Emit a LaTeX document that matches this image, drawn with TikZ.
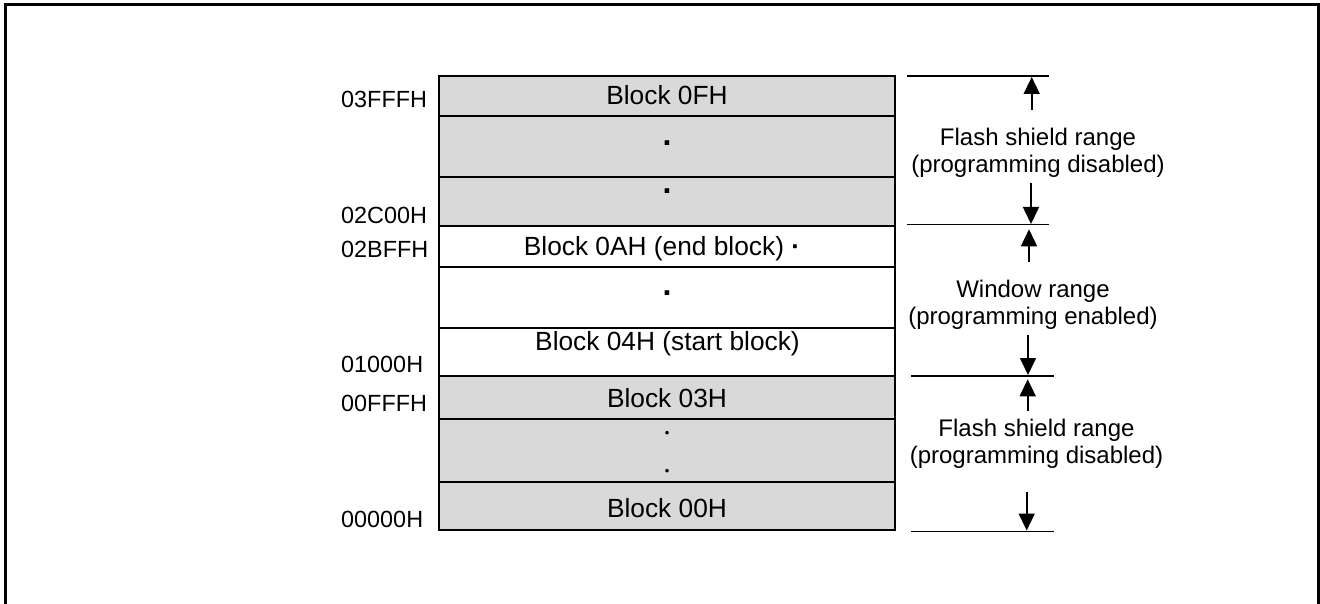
\documentclass[tikz,border=0pt]{standalone}
\usepackage{fontspec}
\setmainfont{Liberation Sans}
\newfontfamily\roundface{Liberation Serif}
\usetikzlibrary{arrows.meta}
\definecolor{shade}{HTML}{D9D9D9}

\begin{document}
\begin{tikzpicture}[x=1pt, y=-1pt,
    blk/.style={draw, line width=2pt, minimum width=456pt, inner sep=0pt},
    blktext/.style={font=\fontsize{26.3}{30}\selectfont, inner sep=0pt, anchor=base},
    addr/.style={font=\fontsize{23.4}{28}\selectfont, inner sep=0pt, anchor=base west},
    rngtext/.style={font=\fontsize{24}{27}\selectfont, align=center, inner sep=0pt, anchor=base},
    sqdot/.style={font=\fontsize{32}{32}\selectfont\bfseries, inner sep=0pt},
    rddot/.style={font=\fontsize{30}{30}\selectfont\roundface, inner sep=0pt},
    bound/.style={line width=1.8pt},
    rng/.style={line width=1.6pt, -{Triangle[length=17pt, width=16pt]}}]
  \useasboundingbox (0,0) rectangle (1320,604);
  \draw[line width=2.6pt] (5.3,604) |- (1318.7,4.3) -- (1318.7,604);
  % memory blocks, top to bottom
  \foreach \n/\t/\b/\c in {1/76/116/shade, 2/116/177/shade, 3/177/226/shade,
      4/226/267/white, 5/267/328/white, 6/328/376/white,
      7/376/419/shade, 8/419/482/shade, 9/482/530/shade}
    \node[blk, fill=\c, minimum height={(\b-\t)*1pt}] (r\n) at (667,{(\t+\b)/2}) {};
  \node[blktext] (b0f) at (667,105) {Block 0FH};
  \node[sqdot] (p1) at (667,143) {.};
  \node[sqdot] (p2) at (667,191) {.};
  \node[blktext] (b0a) at (662,255) {Block 0AH (end block) {\bfseries·}};
  \node[sqdot] (p3) at (667,292.7) {.};
  \node[blktext] (b04) at (667.5,350.7) {Block 04H (start block)};
  \node[blktext] (b03) at (667,407.3) {Block 03H};
  \node[rddot] (p4) at (667,433) {.};
  \node[rddot] (p5) at (667,471) {.};
  \node[blktext] (b00) at (667,517.3) {Block 00H};
  % addresses
  \node[addr] (a1) at (341,107.7) {03FFFH};
  \node[addr] (a2) at (341,223.3) {02C00H};
  \node[addr] (a3) at (341,257.7) {02BFFH};
  \node[addr] (a4) at (341,372.7) {01000H};
  \node[addr] (a5) at (341,411.7) {00FFFH};
  \node[addr] (a6) at (341,527.3) {00000H};
  % range boundaries
  \coordinate (e0w) at (907,76);    \coordinate (e0e) at (1049,76);
  \coordinate (e1w) at (907,224.5); \coordinate (e1e) at (1049,224.5);
  \coordinate (e2w) at (911,375.7); \coordinate (e2e) at (1054,375.7);
  \coordinate (e3w) at (911,531.5); \coordinate (e3e) at (1054,531.5);
  \draw[bound] (e0w) -- (e0e);
  \draw[bound] (e1w) -- (e1e);
  \draw[bound] (e2w) -- (e2e);
  \draw[bound] (e3w) -- (e3e);
  % ranges
  \node[rngtext] (fsu) at (1038,173) {Flash shield range\\(programming disabled)};
  \node[rngtext] (win) at (1033,324.3) {Window range\\(programming enabled)};
  \node[rngtext] (fsl) at (1036.5,463.7) {Flash shield range\\(programming disabled)};
  \coordinate (u1) at (1031.7,77);   \coordinate (w1) at (1031,224);
  \coordinate (u2) at (1029,229.3);  \coordinate (w2) at (1028,375);
  \coordinate (u3) at (1027.7,379.3); \coordinate (w3) at (1026.7,530.5);
  \draw[rng, shorten <=18.5pt] (fsu.north -| u1) -- (u1);
  \draw[rng, shorten <=5pt] (fsu.south -| w1) -- (w1);
  \draw[rng, shorten <=18pt] (win.north -| u2) -- (u2);
  \draw[rng, shorten <=5.6pt] (win.south -| w2) -- (w2);
  \draw[rng, shorten <=8.5pt] (fsl.north -| u3) -- (u3);
  \draw[rng, shorten <=23pt] (fsl.south -| w3) -- (w3);
\end{tikzpicture}
\end{document}
